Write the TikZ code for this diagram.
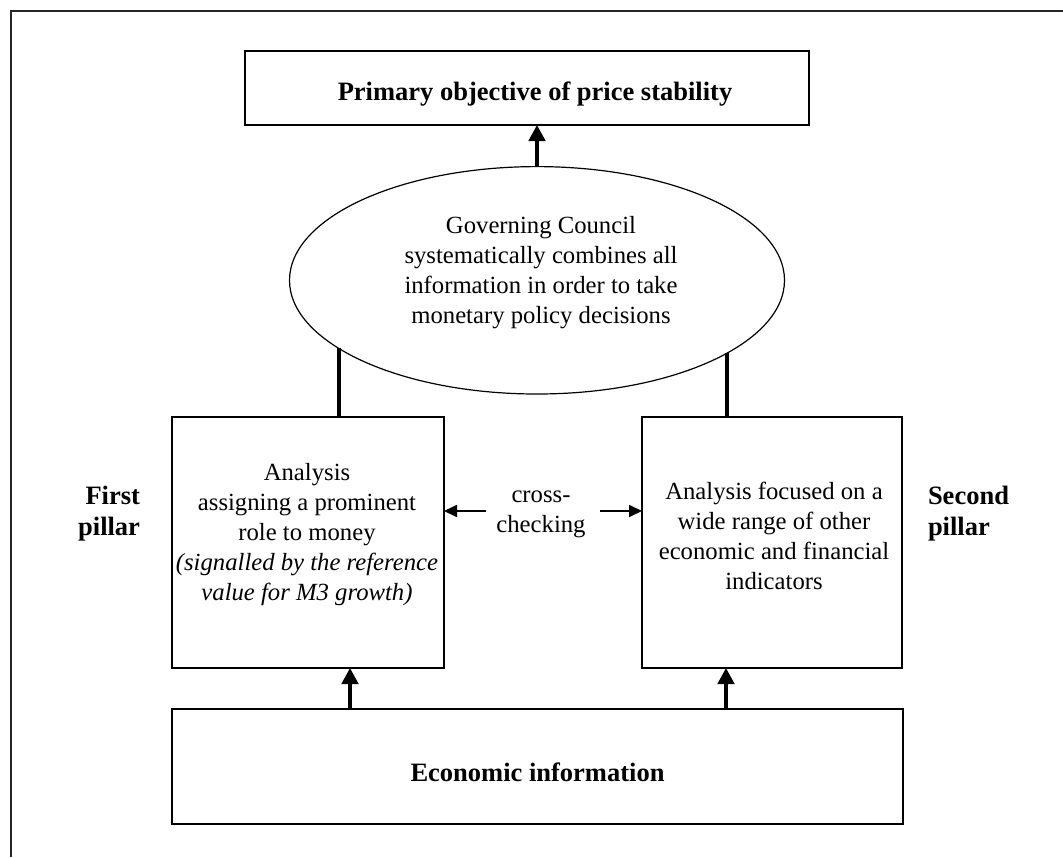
\documentclass[tikz,border=0pt]{standalone}
\usepackage{fontspec}
\setmainfont{Liberation Serif}
\usetikzlibrary{arrows.meta,shapes.geometric}
\begin{document}
\begin{tikzpicture}[x=1pt,y=-1pt,
  box/.style={draw, line width=1.6pt, inner sep=0pt, outer sep=0pt},
  txt/.style={inner sep=0pt, outer sep=0pt, align=center, font=\fontsize{24.7}{30}\selectfont},
  btxt/.style={inner sep=0pt, outer sep=0pt, align=center, font=\fontsize{26.5}{31}\selectfont\bfseries},
  arr/.style={line width=3.2pt, -{Triangle[width=16.5pt,length=16pt]}},
  xarr/.style={line width=1.7pt, -{Triangle[width=12pt,length=13pt]}},
  link/.style={line width=3.2pt}
]
\useasboundingbox (0,0) rectangle (1063,857);
% frame
\draw[line width=1.8pt, black!85] (11,857) -- (11,11) -- (1063,11);
% shapes
\node[box, minimum width=564pt, minimum height=74pt] (top) at (527,88) {};
\node[draw, line width=1.2pt, ellipse, inner sep=0pt, outer sep=0pt, minimum width=495pt, minimum height=227.4pt] (gc) at (537,280.3) {};
\node[box, minimum width=272pt, minimum height=251pt] (lb) at (308,542.5) {};
\node[box, minimum width=260pt, minimum height=251pt] (rb) at (772,542.5) {};
\node[box, minimum width=731pt, minimum height=115pt] (bot) at (537.5,766.5) {};
% texts
\node[btxt] (topt) at (535,93.6) {Primary objective of price stability};
\node[txt] (gct) at (541,272.2) {Governing Council\\systematically combines all\\information in order to take\\monetary policy decisions};
\node[txt] (lt) at (307,534.2) {Analysis\\assigning a prominent\\role to money\\\textit{(signalled by the reference}\\\textit{value for M3 growth)}};
\node[txt] (rt) at (774,535.6) {Analysis focused on a\\wide range of other\\economic and financial\\indicators};
\node[txt] (cc) at (541,514) {cross-\\checking};
\node[btxt, align=right, anchor=east] (fp) at (140,513.3) {First\\pillar};
\node[btxt, align=left, anchor=west] (sp) at (928,513.3) {Second\\pillar};
\node[btxt] (bt) at (537.5,771.9) {Economic information};
% connectors
\coordinate (pl) at (350,0);
\coordinate (pr) at (726,0);
\coordinate (xl) at (486,511);
\coordinate (xr) at (600,511);
\draw[arr] (gc.north) -- (gc.north |- top.south);
\draw[link] (gc.199.25) -- (gc.199.25 |- lb.north);
\draw[link] (gc.-21.2) -- (gc.-21.2 |- rb.north);
\draw[arr] (bot.north -| pl) -- (lb.south -| pl);
\draw[arr] (bot.north -| pr) -- (rb.south -| pr);
\draw[xarr] (xl) -- (xl -| lb.east);
\draw[xarr] (xr) -- (xr -| rb.west);
\end{tikzpicture}
\end{document}
